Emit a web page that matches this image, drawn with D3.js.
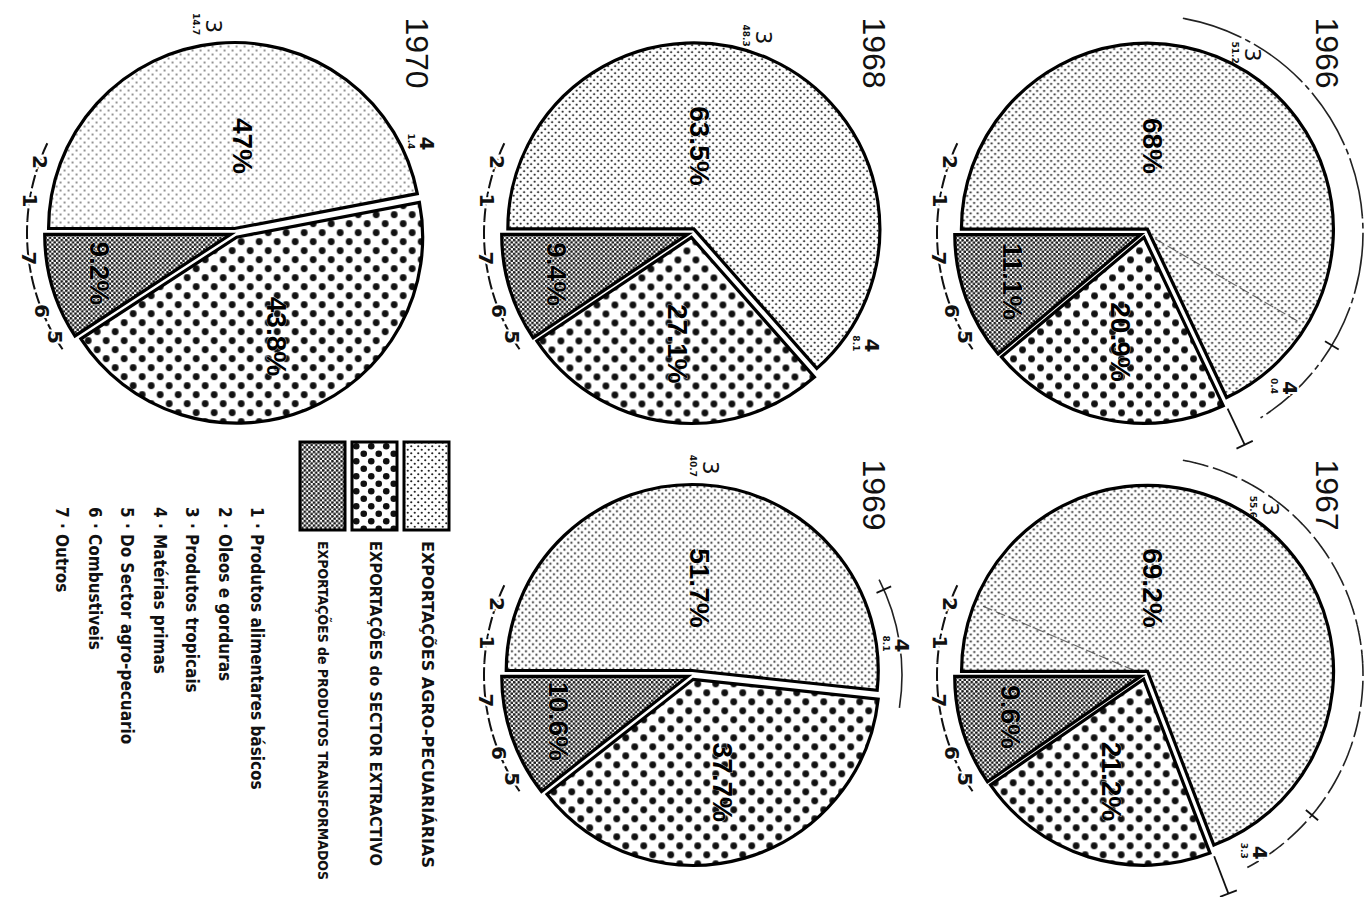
<!DOCTYPE html>
<html><head><meta charset="utf-8">
<script src="https://cdn.jsdelivr.net/npm/d3@7"></script>
<style>
html,body{margin:0;padding:0;background:#fff;}
svg{display:block;}
</style></head>
<body>
<svg id="chart" width="1371" height="897"></svg>
<script>
// ---------------- data ----------------
const years = ["1966", "1967", "1968", "1969", "1970"];
const agro = [68, 69.2, 63.5, 51.7, 47];
const extractive = [20.9, 21.2, 27.1, 37.7, 43.8];
const transformed = [11.1, 9.6, 9.4, 10.6, 9.2];
const categories = [
  "EXPORTAÇÕES AGRO-PECUARIÁRIAS",
  "EXPORTAÇÕES do SECTOR EXTRACTIVO",
  "EXPORTAÇÕES de PRODUTOS TRANSFORMADOS"
];
const productCodes = ["1", "2", "3", "4", "5", "6", "7"];
const productNames = [
  "Produtos alimentares básicos",
  "Oleos e gorduras",
  "Produtos tropicais",
  "Matérias primas",
  "Do Sector agro-pecuario",
  "Combustiveis",
  "Outros"
];
// sub-category notes written around each pie (code 3 and code 4)
const sub3Values = ["51.2", "55.6", "48.3", "40.7", "14.7"];
const sub4Values = ["0.4", "3.3", "8.1", "8.1", "1.4"];
const leftChain = ["2", "1", "7", "6", "5"];

// ---------------- layout ----------------
const W = 1371, H = 897, R = 186;
const colX = [1145, 692, 235];
const rowY = [233, 675];
const cells = [[0, 0], [0, 1], [1, 0], [1, 1], [2, 0]];
// annotation angles (screen degrees, clockwise from +x)
const ang3 = [-59, -53, -70, -85, -96];
const ang4 = [47, 57, 32, -8, -25];
const chainAng = [200, 189, 173, 158, 150];

const svg = d3.select("#chart");
svg.append("rect").attr("width", W).attr("height", H).attr("fill", "#fff");

// ---------------- patterns ----------------
const defs = svg.append("defs");
function dotPattern(id, size, r, color, bg) {
  const p = defs.append("pattern").attr("id", id).attr("patternUnits", "userSpaceOnUse")
    .attr("width", size).attr("height", size);
  p.append("rect").attr("width", size).attr("height", size).attr("fill", bg);
  [[0.25, 0.25], [0.75, 0.75]].forEach(([a, b]) =>
    p.append("circle").attr("cx", a * size).attr("cy", b * size).attr("r", r).attr("fill", color));
}
dotPattern("pAgro", 7, 1.1, "#222", "#fff");
dotPattern("pAgroLight", 8, 0.95, "#666", "#fff");
dotPattern("pExtr", 18, 3.4, "#111", "#fff");
dotPattern("pTrans", 4.6, 1.4, "#1a1a1a", "#fff");
dotPattern("pExtrLegend", 15, 3.3, "#111", "#fff");
const fills = ["url(#pAgro)", "url(#pExtr)", "url(#pTrans)"];

const fmt = v => (Number.isInteger(v) ? v : v.toFixed(1)) + "%";
const rad = d => d * Math.PI / 180;
const polar = (deg, r) => [Math.cos(rad(deg)) * r, Math.sin(rad(deg)) * r];

function rotText(g, x, y, txt, size, weight, family, anchor) {
  return g.append("text")
    .attr("transform", `translate(${x},${y}) rotate(90)`)
    .attr("text-anchor", anchor || "middle")
    .attr("dominant-baseline", "central")
    .attr("font-size", size)
    .attr("font-weight", weight || "normal")
    .attr("font-family", family || "'Liberation Sans', Arial, sans-serif")
    .attr("fill", "#111")
    .text(txt);
}

const pie = d3.pie().sort(null).value(d => d.v)
  .startAngle(-Math.PI / 2).endAngle(1.5 * Math.PI);
const arc = d3.arc().innerRadius(0).outerRadius(R);
const explode = 4.5;

years.forEach((yr, i) => {
  const [c, r] = cells[i];
  const cx = colX[c], cy = rowY[r];
  const g = svg.append("g").attr("transform", `translate(${cx},${cy})`);
  const data = [
    { k: 0, v: agro[i] },
    { k: 1, v: extractive[i] },
    { k: 2, v: transformed[i] }
  ];
  const arcs = pie(data);

  // outer annotation arcs (1966, 1967)
  if (i === 0 || i === 1) {
    const a = d3.arc().innerRadius(R + 32).outerRadius(R + 32)
      .startAngle(rad(-80 + 90)).endAngle(rad((i === 0 ? 58 : 62) + 90));
    g.append("path").attr("d", a()).attr("fill", "none").attr("stroke", "#222")
      .attr("stroke-width", 1.6).attr("stroke-dasharray", i === 0 ? "60 6 4 6" : "14 7 3 7");
    const bAng = (arcs[0].endAngle * 180 / Math.PI) - 90;
    const p1 = polar(bAng, R + 8), p2 = polar(bAng, R + 48);
    g.append("line").attr("x1", p1[0]).attr("y1", p1[1]).attr("x2", p2[0]).attr("y2", p2[1])
      .attr("stroke", "#111").attr("stroke-width", 1.8);
    const q = polar(bAng, R + 48), t = [Math.cos(rad(bAng + 90)) * 9, Math.sin(rad(bAng + 90)) * 9];
    g.append("line").attr("x1", q[0] - t[0]).attr("y1", q[1] - t[1]).attr("x2", q[0] + t[0]).attr("y2", q[1] + t[1])
      .attr("stroke", "#111").attr("stroke-width", 1.8);
    const tk = i === 0 ? 31 : 40;
    const k1 = polar(tk, R + 24), k2 = polar(tk, R + 40);
    g.append("line").attr("x1", k1[0]).attr("y1", k1[1]).attr("x2", k2[0]).attr("y2", k2[1])
      .attr("stroke", "#111").attr("stroke-width", 1.8);
  }
  if (i === 3) {
    const a = d3.arc().innerRadius(R + 24).outerRadius(R + 24)
      .startAngle(rad(-27 + 90)).endAngle(rad(9 + 90));
    g.append("path").attr("d", a()).attr("fill", "none").attr("stroke", "#222").attr("stroke-width", 1.6);
    const k1 = polar(-24, R + 16), k2 = polar(-24, R + 32);
    g.append("line").attr("x1", k1[0]).attr("y1", k1[1]).attr("x2", k2[0]).attr("y2", k2[1])
      .attr("stroke", "#111").attr("stroke-width", 1.8);
  }

  // slices
  arcs.forEach(d => {
    const mid = (d.startAngle + d.endAngle) / 2;
    const ox = Math.sin(mid) * explode, oy = -Math.cos(mid) * explode;
    let fill = fills[d.data.k];
    if (i === 4 && d.data.k === 0) fill = "url(#pAgroLight)";
    g.append("path").attr("d", arc(d))
      .attr("transform", `translate(${ox},${oy})`)
      .attr("fill", fill).attr("stroke", "#000").attr("stroke-width", 3.2)
      .attr("stroke-linejoin", "miter");
  });

  // faint internal sub-division lines
  if (i === 0 || i === 1) {
    const la = i === 0 ? 30 : 203;
    const e = polar(la, R - 8), s = polar(la, 12);
    g.append("line").attr("x1", s[0]).attr("y1", s[1]).attr("x2", e[0]).attr("y2", e[1])
      .attr("stroke", "#333").attr("stroke-width", 1.2).attr("stroke-dasharray", "10 4")
      .attr("opacity", 0.7);
  }

  // percentage labels
  arcs.forEach(d => {
    let deg, rr;
    if (d.data.k === 0) { deg = 5 - 90; rr = 0.47 * R; }
    else {
      deg = (d.startAngle + d.endAngle) / 2 * 180 / Math.PI - 90;
      rr = d.data.k === 1 ? 0.6 * R : 0.76 * R;
    }
    const [x, y] = polar(deg, rr);
    rotText(g, x, y, fmt(d.data.v), 28, "bold", "'Liberation Sans', Arial, sans-serif")
      .attr("fill", "#000")
      .attr("stroke", "#fff").attr("stroke-width", 0.6).attr("paint-order", "stroke");
  });

  // year label
  rotText(g, 182, -180, yr, 32, "normal");

  // left chain of sub-category codes
  const ca = d3.arc().innerRadius(R + 22).outerRadius(R + 22)
    .startAngle(rad(chainAng[chainAng.length - 1] - 4 + 90)).endAngle(rad(chainAng[0] + 6 + 90));
  g.append("path").attr("d", ca()).attr("fill", "none").attr("stroke", "#111")
    .attr("stroke-width", 2).attr("stroke-dasharray", "12 5");
  leftChain.forEach((lab, j) => {
    const [x, y] = polar(chainAng[j], R + 22);
    rotText(g, x, y, lab, 20, "bold", "'DejaVu Sans', sans-serif")
      .attr("stroke", "#fff").attr("stroke-width", 4).attr("paint-order", "stroke");
  });

  // code 3 label with value
  {
    const [x, y] = polar(ang3[i], R + 22);
    rotText(g, x, y, "3", 22, "normal", "'DejaVu Sans', sans-serif");
    rotText(g, x - 17, y - 2, sub3Values[i], 9, "bold", "'DejaVu Sans', sans-serif");
  }
  // code 4 label with value
  {
    const [x, y] = polar(ang4[i], R + 26);
    rotText(g, x, y, "4", 20, "bold", "'DejaVu Sans', sans-serif")
      .attr("stroke", "#fff").attr("stroke-width", 4).attr("paint-order", "stroke");
    rotText(g, x - 16, y - 2, sub4Values[i], 9, "bold", "'DejaVu Sans', sans-serif");
  }
});

// ---------------- legend ----------------
const lg = svg.append("g");
const boxX = [404, 352, 300];
const legendFills = ["url(#pAgro)", "url(#pExtrLegend)", "url(#pTrans)"];
const legendEnds = [868, 866, 880];
const legendSizes = [15, 15, 14];
categories.forEach((cat, j) => {
  lg.append("rect").attr("x", boxX[j]).attr("y", 442).attr("width", 45).attr("height", 88)
    .attr("fill", legendFills[j]).attr("stroke", "#000").attr("stroke-width", 3);
  rotText(lg, boxX[j] + 23, 541, cat, legendSizes[j], "bold",
    "'Liberation Sans Narrow', 'DejaVu Sans Condensed', Arial, sans-serif", "start")
    .attr("textLength", legendEnds[j] - 541).attr("lengthAdjust", "spacingAndGlyphs");
});

const listX = d3.scalePoint().domain(productCodes).range([257, 62]);
productCodes.forEach((code, j) => {
  rotText(lg, listX(code), 507, code + " · " + productNames[j], 17, "bold",
    "'Liberation Sans Narrow', 'DejaVu Sans Condensed', Arial, sans-serif", "start");
});
</script>
</body></html>
